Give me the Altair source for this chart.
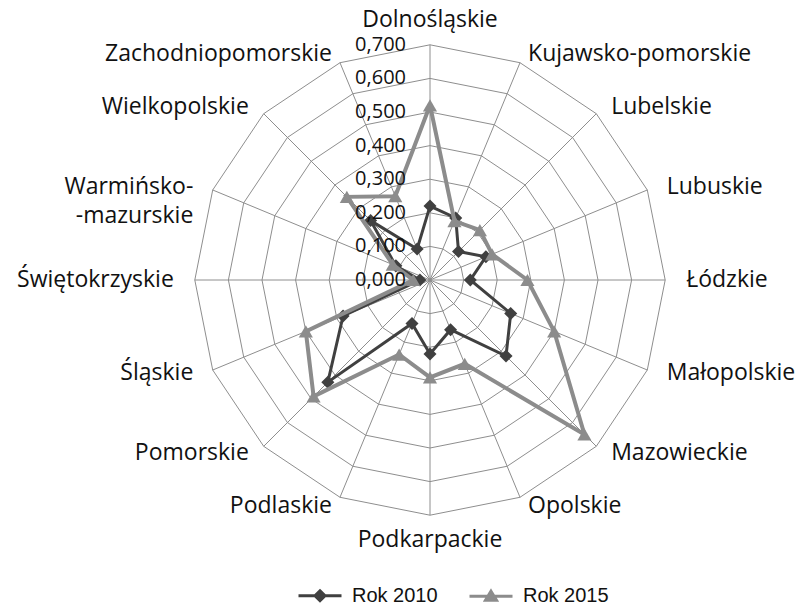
import altair as alt
import pandas as pd

# ---------------- data ----------------
categories = [
    "Dolnośląskie", "Kujawsko-pomorskie", "Lubelskie", "Lubuskie", "Łódzkie",
    "Małopolskie", "Mazowieckie", "Opolskie", "Podkarpackie", "Podlaskie",
    "Pomorskie", "Śląskie", "Świętokrzyskie", "Warmińsko-\n-mazurskie",
    "Wielkopolskie", "Zachodniopomorskie",
]
series_names = ["Rok 2010", "Rok 2015"]
values_2010 = [0.22, 0.20, 0.12, 0.18, 0.12, 0.26, 0.32, 0.16,
               0.22, 0.14, 0.43, 0.28, 0.03, 0.11, 0.25, 0.10]
values_2015 = [0.52, 0.19, 0.21, 0.20, 0.29, 0.40, 0.65, 0.27,
               0.29, 0.24, 0.49, 0.40, 0.05, 0.12, 0.35, 0.27]
level_values = [0.0, 0.1, 0.2, 0.3, 0.4, 0.5, 0.6, 0.7]
level_labels = ["0,000", "0,100", "0,200", "0,300", "0,400", "0,500", "0,600", "0,700"]

N = len(categories)
RMAX = level_values[-1]

# ---------------- tables ----------------
series_rows = []
for name, vals in zip(series_names, [values_2010, values_2015]):
    for k in range(N + 1):
        series_rows.append({"series": name, "k": k, "idx": k % N, "value": vals[k % N]})
series_df = pd.DataFrame(series_rows)

ring_rows = []
for lv in level_values[1:]:
    for k in range(N + 1):
        ring_rows.append({"level": lv, "k": k, "idx": k % N, "value": lv})
ring_df = pd.DataFrame(ring_rows)

cat_df = pd.DataFrame({"idx": list(range(N)), "label": categories, "value": [RMAX] * N})
tick_df = pd.DataFrame({"value": level_values, "text": level_labels})

# ---------------- layout ----------------
W, H = 792, 599
PX = 336.0             # pixels per unit
CX, CY = 422.0, 272.0  # centre in plot coordinates
xs = alt.Scale(domain=[-CX / PX, (W - CX) / PX], nice=False, zero=False)
ys = alt.Scale(domain=[-(H - CY) / PX, CY / PX], nice=False, zero=False)

ANG = f"datum.idx * 2 * PI / {N}"


def polar(ch):
    return ch.transform_calculate(ang=ANG).transform_calculate(
        px="datum.value * sin(datum.ang)", py="datum.value * cos(datum.ang)"
    )


X = alt.X("px:Q", scale=xs, axis=None)
Y = alt.Y("py:Q", scale=ys, axis=None)

GRID = "#8e8e8e"
C2010 = "#404040"
C2015 = "#8c8c8c"

rings = polar(alt.Chart(ring_df)).mark_line(color=GRID, strokeWidth=1).encode(
    x=X, y=Y, detail="level:N", order="k:Q"
)

spokes = polar(alt.Chart(cat_df)).transform_calculate(zx="0", zy="0").mark_rule(
    color=GRID, strokeWidth=1
).encode(
    x=alt.X("zx:Q", scale=xs, axis=None),
    y=alt.Y("zy:Q", scale=ys, axis=None),
    x2="px:Q",
    y2="py:Q",
)

layers = [rings, spokes]
styles = {
    "Rok 2010": dict(color=C2010, width=3, shape="diamond", size=170),
    "Rok 2015": dict(color=C2015, width=4, shape="triangle-up", size=200),
}
for name in series_names:
    st = styles[name]
    base = polar(alt.Chart(series_df).transform_filter(alt.datum.series == name))
    layers.append(
        base.mark_line(color=st["color"], strokeWidth=st["width"]).encode(x=X, y=Y, order="k:Q")
    )
    layers.append(
        base.transform_filter("datum.k < %d" % N)
        .mark_point(shape=st["shape"], size=st["size"], filled=True, color=st["color"], opacity=1)
        .encode(x=X, y=Y)
    )

# radial value labels
ticks = alt.Chart(tick_df).transform_calculate(px="0", py="datum.value").mark_text(
    align="right", baseline="middle", dx=-24, font="Open Sans", fontSize=20, color="#111"
).encode(x=X, y=Y, text="text:N")
layers.append(ticks)

# category labels: offset from the outer ring vertex (pixels -> units)
SIDE_DX, SIDE_DY, POLE_DY = 21 / PX, 9 / PX, 25 / PX
lab = polar(alt.Chart(cat_df)).transform_calculate(
    pole="abs(sin(datum.ang)) < 0.01"
).transform_calculate(
    lx=f"datum.px + (datum.pole ? 0 : {SIDE_DX} * sin(datum.ang))",
    ly=f"datum.py + (datum.pole ? {POLE_DY} * cos(datum.ang) : {SIDE_DY} * cos(datum.ang))",
)
LX = alt.X("lx:Q", scale=xs, axis=None)
LY = alt.Y("ly:Q", scale=ys, axis=None)
for cond, al in [("sin(datum.ang) > 0.01", "left"),
                 ("sin(datum.ang) < -0.01", "right"),
                 ("abs(sin(datum.ang)) <= 0.01", "center")]:
    layers.append(
        lab.transform_filter(cond).mark_text(
            align=al, baseline="middle", font="Open Sans", fontSize=23,
            color="#111", lineBreak="\n", lineHeight=29
        ).encode(x=LX, y=LY, text="label:N")
    )

# legend (driven by an invisible layer)
diamond_path = "M-2.15,0H2.15M0,-0.5L0.5,0L0,0.5L-0.5,0Z"
triangle_path = "M-2.15,0H2.15M0,-0.5L0.55,0.4L-0.55,0.4Z"
leg = alt.Legend(
    title=None, orient="none", legendX=300.5, legendY=576, direction="horizontal",
    symbolSize=400, symbolStrokeWidth=3, symbolOpacity=1,
    labelFont="Liberation Sans", labelFontSize=20, labelColor="#111",
    labelOffset=20.5, columnPadding=25, padding=0,
)
legend_layer = polar(alt.Chart(series_df)).mark_point(filled=True, opacity=0).encode(
    x=X, y=Y,
    fill=alt.Fill("series:N", scale=alt.Scale(domain=series_names, range=[C2010, C2015]), legend=leg),
    stroke=alt.Stroke("series:N", scale=alt.Scale(domain=series_names, range=[C2010, C2015]), legend=leg),
    shape=alt.Shape("series:N", scale=alt.Scale(domain=series_names, range=[diamond_path, triangle_path]), legend=leg),
)
layers.append(legend_layer)

chart = alt.layer(*layers).properties(
    width=W, height=H, padding=0, autosize=alt.AutoSizeParams(type="none")
).configure_view(stroke=None)

chart.save("out.html", embed_options={"renderer": "svg", "actions": False})
